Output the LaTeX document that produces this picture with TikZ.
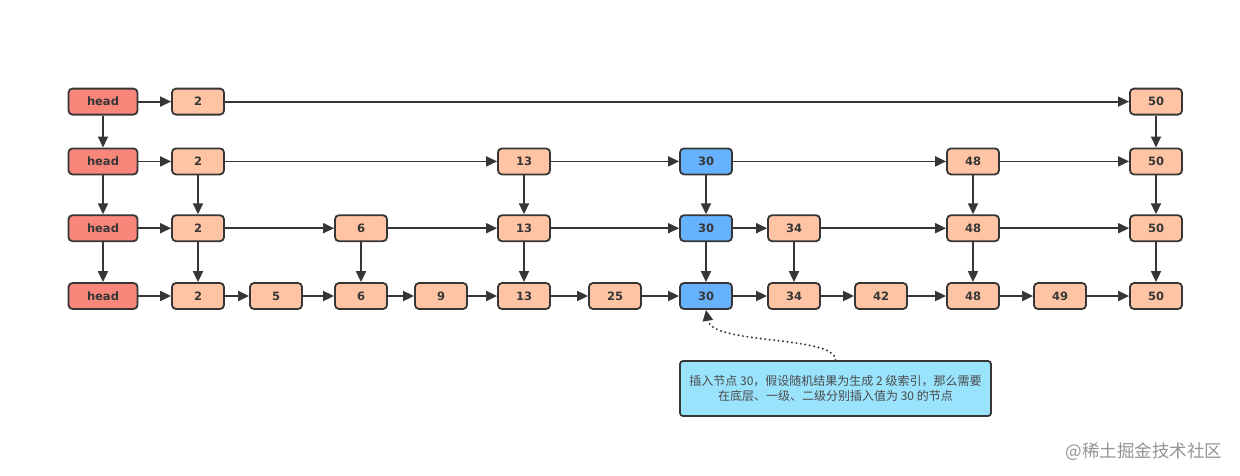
\documentclass[tikz,border=0pt]{standalone}
\usepackage{fontspec}
\setsansfont{DejaVu Sans}
\newfontfamily\cjk{Noto Sans CJK SC}
\usepackage{tikz}
\usetikzlibrary{positioning,arrows.meta}
\definecolor{headred}{HTML}{F8867A}
\definecolor{peach}{HTML}{FFC4A3}
\definecolor{newblue}{HTML}{66B2FF}
\definecolor{noteblue}{HTML}{99E3FC}
\definecolor{edge}{HTML}{363636}

\begin{document}
\begin{tikzpicture}[
  x=1pt, y=-1pt,
  lst/.style={rectangle, rounded corners=4pt, draw=edge, line width=1.8pt,
              fill=peach, minimum width=52pt, minimum height=26pt, inner sep=0pt,
              text=edge, font=\sffamily\bfseries\fontsize{11.5}{13}\selectfont},
  hd/.style={lst, fill=headred, minimum width=69pt},
  ins/.style={lst, fill=newblue},
  arr/.style={-{Triangle[length=11pt,width=10pt]}, line width=1.8pt, draw=edge},
  note/.style={rectangle, rounded corners=3pt, draw=edge, line width=1.8pt,
               fill=noteblue, minimum width=311pt, minimum height=55pt,
               align=center, text=edge!90, font=\cjk\fontsize{12}{15.5}\selectfont},
]
 \useasboundingbox (0,0) rectangle (1240,475);

 % Bottom level
 \node[hd]  (h4)  at (103,296) {head};
 \node[lst] (a2)  at (198,296) {2};
 \node[lst] (a5)  at (276,296) {5};
 \node[lst] (a6)  at (361,296) {6};
 \node[lst] (a9)  at (441,296) {9};
 \node[lst] (a13) at (524,296) {13};
 \node[lst] (a25) at (615,296) {25};
 \node[ins] (a30) at (706,296) {30};
 \node[lst] (a34) at (794,296) {34};
 \node[lst] (a42) at (881,296) {42};
 \node[lst] (a48) at (973,296) {48};
 \node[lst] (a49) at (1060,296) {49};
 \node[lst] (a50) at (1156,296) {50};

 \draw[arr] (h4) -- (a2);
 \draw[arr] (a2) -- (a5);
 \draw[arr] (a5) -- (a6);
 \draw[arr] (a6) -- (a9);
 \draw[arr] (a9) -- (a13);
 \draw[arr] (a13) -- (a25);
 \draw[arr] (a25) -- (a30);
 \draw[arr] (a30) -- (a34);
 \draw[arr] (a34) -- (a42);
 \draw[arr] (a42) -- (a48);
 \draw[arr] (a48) -- (a49);
 \draw[arr] (a49) -- (a50);

 % First level index
 \node[hd,  above=40pt of h4]  (h3)  {head};
 \node[lst, above=40pt of a2]  (b2)  {2};
 \node[lst, above=40pt of a6]  (b6)  {6};
 \node[lst, above=40pt of a13] (b13) {13};
 \node[ins, above=40pt of a30] (b30) {30};
 \node[lst, above=40pt of a34] (b34) {34};
 \node[lst, above=40pt of a48] (b48) {48};
 \node[lst, above=40pt of a50] (b50) {50};

 \draw[arr] (h3) -- (b2);
 \draw[arr] (b2) -- (b6);
 \draw[arr] (b6) -- (b13);
 \draw[arr] (b13) -- (b30);
 \draw[arr] (b30) -- (b34);
 \draw[arr] (b34) -- (b48);
 \draw[arr] (b48) -- (b50);

 \draw[arr] (h3) -- (h4);
 \draw[arr] (b2) -- (a2);
 \draw[arr] (b6) -- (a6);
 \draw[arr] (b13) -- (a13);
 \draw[arr] (b30) -- (a30);
 \draw[arr] (b34) -- (a34);
 \draw[arr] (b48) -- (a48);
 \draw[arr] (b50) -- (a50);

 % Second level index
 \node[hd,  above=39pt of h3]  (h2)  {head};
 \node[lst, above=39pt of b2]  (c2)  {2};
 \node[lst, above=39pt of b13] (c13) {13};
 \node[ins, above=39pt of b30] (c30) {30};
 \node[lst, above=39pt of b48] (c48) {48};
 \node[lst, above=39pt of b50] (c50) {50};

 \draw[arr] (h2) -- (c2);
 \draw[arr] (c2) -- (c13);
 \draw[arr] (c13) -- (c30);
 \draw[arr] (c30) -- (c48);
 \draw[arr] (c48) -- (c50);

 \draw[arr] (h2) -- (h3);
 \draw[arr] (c2) -- (b2);
 \draw[arr] (c13) -- (b13);
 \draw[arr] (c30) -- (b30);
 \draw[arr] (c48) -- (b48);
 \draw[arr] (c50) -- (b50);

 % Top level index
 \node[hd,  above=32pt of h2]  (h1)  {head};
 \node[lst, above=32pt of c2]  (d2)  {2};
 \node[lst, above=32pt of c50] (d50) {50};

 \draw[arr] (h1) -- (d2);
 \draw[arr] (d2) -- (d50);

 \draw[arr] (h1) -- (h2);
 \draw[arr] (d50) -- (c50);

 % Note
 \node[note] (tip) at (835.5,388.5)
   {插入节点 30，假设随机结果为生成 2 级索引，那么需要\\在底层、一级、二级分别插入值为 30 的节点};
 \draw[arr, line width=2.2pt, dash pattern=on 0pt off 4.5pt, line cap=round]
   (tip.north) .. controls (835,335) and (712,345) .. (a30.south);

 \node[font=\cjk\fontsize{17.5}{20}\selectfont, text=black!42, anchor=east] (mark)
   at (1226,452) {@稀土掘金技术社区};
\end{tikzpicture}
\end{document}
